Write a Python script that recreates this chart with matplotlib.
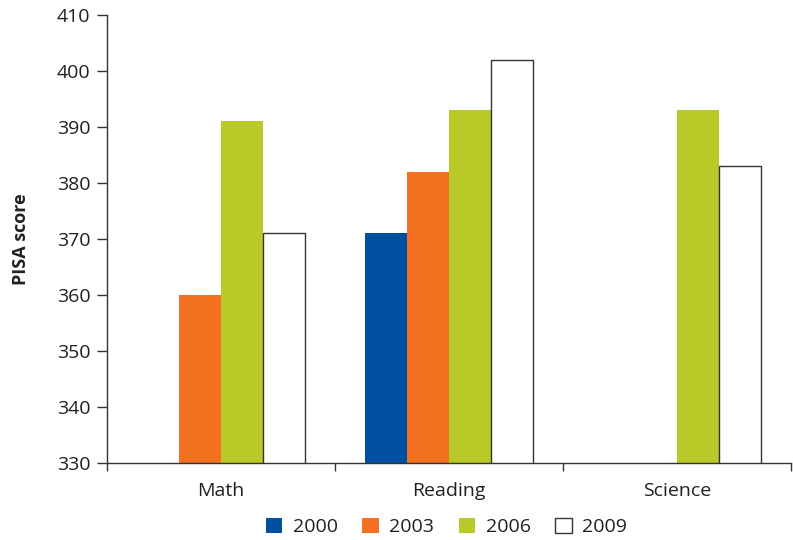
import numpy as np
import matplotlib.pyplot as plt
from matplotlib.patches import Patch

plt.rcParams['font.family'] = ['Open Sans', 'DejaVu Sans']

subjects = ["Math", "Reading", "Science"]
years = ["2000", "2003", "2006", "2009"]
# NaN = no score for that year
scores = {
    "2000": [np.nan, 371, np.nan],
    "2003": [360, 382, np.nan],
    "2006": [391, 393, 393],
    "2009": [371, 402, 383],
}
colors = {"2000": "#0050A2", "2003": "#F37021", "2006": "#B9C928", "2009": "white"}
edge = "#333333"

fig = plt.figure(figsize=(7.93, 5.40), dpi=100)
ax = fig.add_axes([0.135, 0.1426, 0.862, 0.830])

x = np.arange(len(subjects))
width = 0.184
for i, year in enumerate(years):
    offset = (i - 1.5) * width
    ax.bar(x + offset, scores[year], width, bottom=0,
           color=colors[year],
           edgecolor=edge if year == "2009" else "none",
           linewidth=1.0)

ax.set_ylim(330, 410)
ax.set_yticks(np.arange(330, 411, 10))
ax.set_xlim(-0.5, 2.5)

# category labels centered, tick marks on the group boundaries
ax.set_xticks([-0.5, 0.5, 1.5, 2.5])
ax.set_xticklabels([])
ax.set_xticks(x, minor=True)
ax.set_xticklabels(subjects, minor=True)
ax.tick_params(axis='x', which='minor', length=0, pad=14, labelsize=14, colors='#231F20')
ax.tick_params(axis='x', which='major', length=6, width=1, color=edge, direction='out')
ax.tick_params(axis='y', length=7, width=1, color=edge, labelsize=14, labelcolor='#231F20', pad=5)

for side in ["top", "right"]:
    ax.spines[side].set_visible(False)
for side in ["left", "bottom"]:
    ax.spines[side].set_color(edge)
    ax.spines[side].set_linewidth(1.0)

ax.set_ylabel("PISA score", fontsize=13, fontweight='bold', color='#231F20', labelpad=19)

handles = [Patch(facecolor=colors[y], edgecolor=edge if y == "2009" else "none", linewidth=1.0)
           for y in years]
fig.legend(handles, years, loc='center', bbox_to_anchor=(0.563, 0.024), ncol=4,
           frameon=False, fontsize=14, handlelength=0.85, handleheight=0.85,
           handletextpad=0.55, columnspacing=1.25, labelcolor='#231F20',
           borderpad=0.0)

fig.savefig("out.png", dpi=100)
